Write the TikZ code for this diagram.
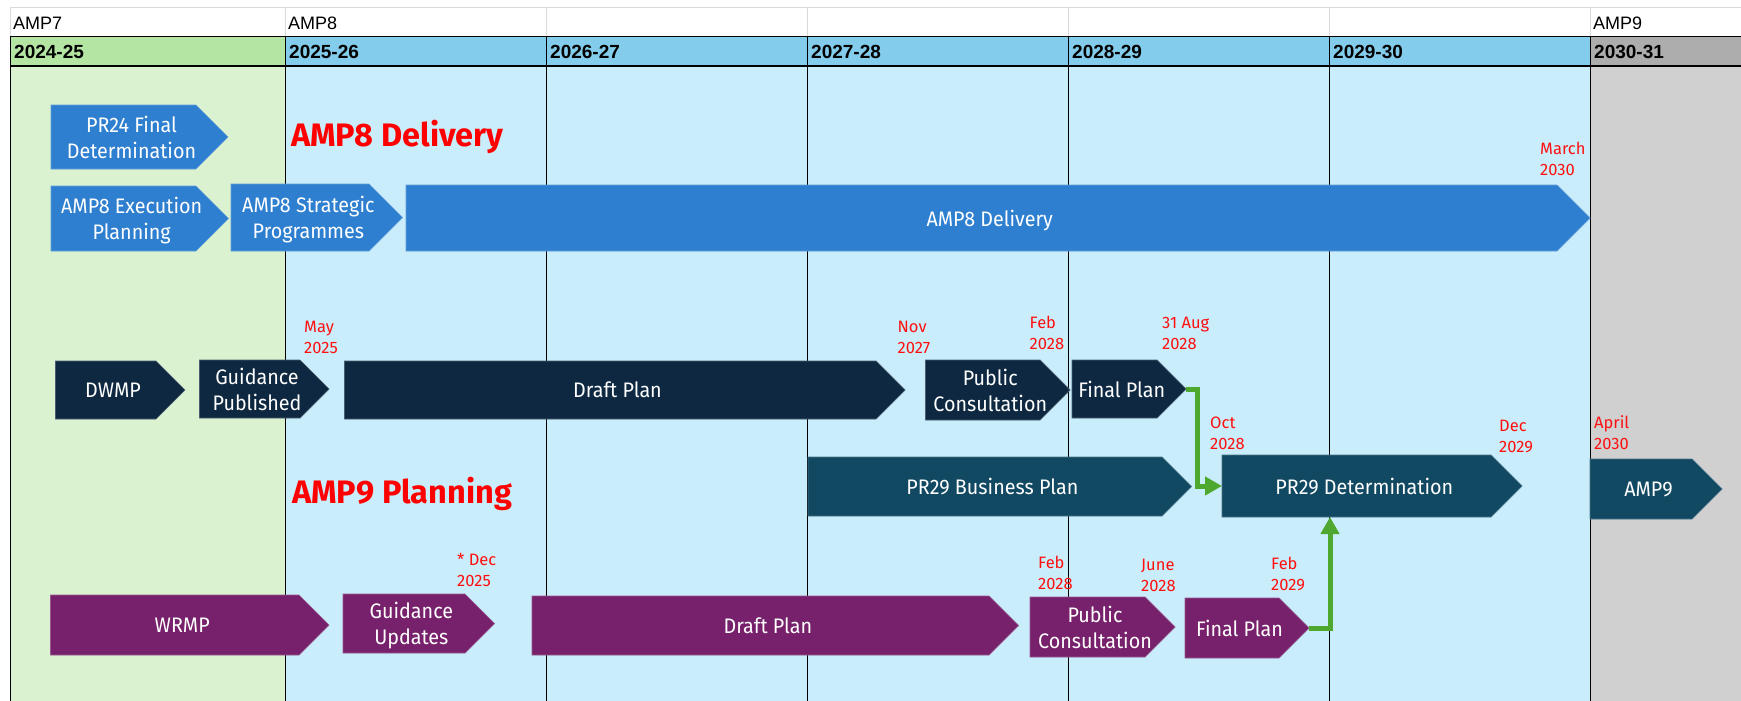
\documentclass[tikz,border=0pt]{standalone}
\usepackage{fontspec}
\setmainfont{Fira Sans}
\newfontfamily\hdrfont{Liberation Sans}
\newfontfamily\boxfont{Fira Sans}[FakeStretch=0.94]
\usetikzlibrary{arrows.meta,calc}

\definecolor{ampblue}{HTML}{2E7FCF}
\definecolor{navy}{HTML}{0E2841}
\definecolor{teal}{HTML}{114862}
\definecolor{plum}{HTML}{77206B}
\definecolor{arrowgreen}{HTML}{4EA72E}
\definecolor{greenbody}{HTML}{DAF2D0}
\definecolor{greenhdr}{HTML}{B4E5A2}
\definecolor{bluebody}{HTML}{CAEDFB}
\definecolor{bluehdr}{HTML}{83CCEB}
\definecolor{greybody}{HTML}{D0D0D0}
\definecolor{greyhdr}{HTML}{ADADAD}
\definecolor{gridgrey}{HTML}{DADADA}
\definecolor{datered}{HTML}{FF1010}

\tikzset{
  boxtext/.style={font=\boxfont\fontsize{21}{25.7}\selectfont, text=white, align=center, inner sep=0pt, text depth=0pt},
  datelbl/.style={font=\fontsize{16.5}{21.5}\selectfont, text=datered, inner sep=0pt, anchor=base west},
  bigred/.style={font=\bfseries\fontsize{32.5}{38}\selectfont, text=red, inner sep=0pt, anchor=base west},
  yeartext/.style={font=\hdrfont\bfseries\fontsize{19}{22}\selectfont, inner sep=0pt, anchor=base west},
  amptext/.style={font=\hdrfont\fontsize{18}{22}\selectfont, inner sep=0pt, anchor=base west},
  gridline/.style={draw=black, line width=1pt},
  hdrline/.style={draw=black, line width=1.4pt},
  softline/.style={draw=gridgrey, line width=1pt},
  greenarr/.style={draw=arrowgreen, line width=5pt, -{Triangle[width=18pt,length=17pt]}},
}

% name, colour, x left, x body end, y top, y bottom, text
\newcommand\chev[7]{%
  \path[fill=#2, draw=#2!75!white, line width=0.7pt]
    (#3,#5) -- (#4,#5) -- ({#4+(#6-#5)/2},{(#5+#6)/2}) -- (#4,#6) -- (#3,#6) -- cycle;
  \node[boxtext] (#1) at ({(#3+#4)/2+(#6-#5)/8},{(#5+#6)/2}) {#7};
  \coordinate (#1-tip) at ({#4+(#6-#5)/2},{(#5+#6)/2});
  \coordinate (#1-w) at (#3,{(#5+#6)/2});
  \coordinate (#1-sw) at (#3,#6);
}
\newcommand\datenote[4]{%
  \node[datelbl] (#1) at (#2,#3) {\begin{tabular}[t]{@{}l@{}}#4\end{tabular}};
}

\begin{document}
\begin{tikzpicture}[x=1pt,y=-1pt]
\useasboundingbox (0,0) rectangle (1741,701);
\fill[white] (0,0) rectangle (1741,701);

% column backgrounds
\fill[greenbody] (10,66) rectangle (285,701);
\fill[bluebody] (285,66) rectangle (1590,701);
\fill[greybody] (1590,66) rectangle (1741,701);
\fill[greenhdr] (10,36.5) rectangle (285,66);
\fill[bluehdr] (285,36.5) rectangle (1590,66);
\fill[greyhdr] (1590,36.5) rectangle (1741,66);

% grid
\draw[softline] (10,7.5) -- (1741,7.5);
\foreach \cx in {285,546,807,1068,1329,1590} {
  \draw[softline] (\cx,7.5) -- (\cx,36.5);
  \draw[gridline] (\cx,36.5) -- (\cx,701);
}
\draw[softline] (10,7.5) -- (10,36.5);
\draw[gridline] (10,36.5) -- (10,701);
\draw[hdrline] (10,36.5) -- (1741,36.5);
\draw[hdrline] (10,66) -- (1741,66);

% period row
\node[amptext] (amp7) at (13,29.5) {AMP7};
\node[amptext] (amp8) at (288,29.5) {AMP8};
\node[amptext] (amp9h) at (1593,29.5) {AMP9};

% year header
\node[yeartext] (y1) at (14,59) {2024-25};
\node[yeartext] (y2) at (289,59) {2025-26};
\node[yeartext] (y3) at (550,59) {2026-27};
\node[yeartext] (y4) at (811,59) {2027-28};
\node[yeartext] (y5) at (1072,59) {2028-29};
\node[yeartext] (y6) at (1333,59) {2029-30};
\node[yeartext] (y7) at (1594,59) {2030-31};

% section titles
\node[bigred] (t8) at (291,146) {AMP8 Delivery};
\node[bigred] (t9) at (292,503) {AMP9 Planning};

% AMP8 row
\chev{pr24}{ampblue}{51}{196}{105}{169}{PR24 Final\\Determination}
\chev{exec}{ampblue}{51}{196}{186}{251}{AMP8 Execution\\Planning}
\chev{strat}{ampblue}{231}{369}{184}{251}{AMP8 Strategic\\Programmes}
\chev{deliv}{ampblue}{406}{1557}{185}{251}{AMP8 Delivery}

% DWMP row
\chev{dwmp}{navy}{55.5}{156}{361}{419}{DWMP}
\chev{dguid}{navy}{199.5}{300}{360}{418}{Guidance\\Published}
\chev{ddraft}{navy}{344.5}{876}{361}{419}{Draft Plan}
\chev{dpub}{navy}{925.5}{1040}{360}{420}{Public\\Consultation}
\chev{dfinal}{navy}{1072}{1157}{360}{418}{Final Plan}

% PR29 row
\chev{bplan}{teal}{808}{1162}{457}{516}{PR29 Business Plan}
\chev{pdet}{teal}{1222}{1491}{455}{517}{PR29 Determination}
\chev{ampnine}{teal}{1590}{1692}{459}{519}{AMP9}

% WRMP row
\chev{wrmp}{plum}{50.5}{299}{595}{655}{WRMP}
\chev{wguid}{plum}{343}{465}{594}{653}{Guidance\\Updates}
\chev{wdraft}{plum}{532}{989}{596}{655}{Draft Plan}
\chev{wpub}{plum}{1030}{1145}{597}{657}{Public\\Consultation}
\chev{wfinal}{plum}{1185}{1279}{598}{658}{Final Plan}

% connectors
\draw[greenarr] (dfinal-tip) -- ++(11,0) |- (pdet-w);
\draw[greenarr] (wfinal-tip) -| ([xshift=108pt]pdet-sw);

% date notes
\datenote{dmar}{1540}{154}{March\\2030}
\datenote{dmay}{304}{332}{May\\2025}
\datenote{dnov}{897.5}{332}{Nov\\2027}
\datenote{dfeba}{1029.5}{328}{Feb\\2028}
\datenote{daug}{1162}{328}{31 Aug\\2028}
\datenote{doct}{1210}{428}{Oct\\2028}
\datenote{ddec}{1499}{431}{Dec\\2029}
\datenote{dapr}{1594}{428}{April\\2030}
\datenote{ddecb}{457}{565}{* Dec\\2025}
\datenote{dfebb}{1038}{568}{Feb\\2028}
\datenote{djun}{1141}{570}{June\\2028}
\datenote{dfebc}{1271}{569}{Feb\\2029}
\end{tikzpicture}
\end{document}
